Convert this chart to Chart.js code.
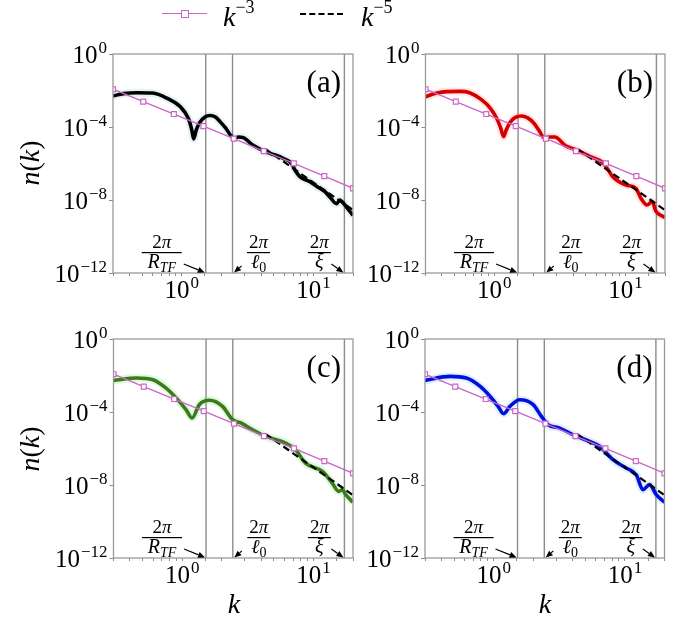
<!DOCTYPE html>
<html>
<head>
<meta charset="utf-8">
<script src="https://cdn.jsdelivr.net/npm/chart.js"></script>
<style>
  body { margin: 0; background: #fff; }
  #fig { position: relative; width: 688px; height: 624px; overflow: hidden; font-family: "Liberation Serif", serif; }
  #fig canvas { position: absolute; }
  .t { position: absolute; font-size: 28px; line-height: 1; white-space: nowrap; color: #000; }
  .t i { font-style: italic; }
  .t sup { font-size: 18px; position: relative; top: -13px; vertical-align: baseline; }
  .c { transform: translate(-50%, -50%); }
  .rot { transform: translate(-50%, -50%) rotate(-90deg); }
  .pinkLine { position: absolute; left: 162px; top: 13px; width: 45px; border-top: 1.6px solid #cc66c8; }
  .pinkMark { position: absolute; left: 181px; top: 10px; width: 6px; height: 6px; border: 1.3px solid #cc66c8; background: #fff; }
  .dashLine { position: absolute; left: 300px; top: 13px; width: 43px; border-top: 2.2px dashed #000; }
</style>
</head>
<body>
<div id="fig">
  <canvas id="pa" width="360" height="300" style="left:0;top:0"></canvas>
  <canvas id="pb" width="328" height="300" style="left:360px;top:0"></canvas>
  <canvas id="pc" width="360" height="324" style="left:0;top:300px"></canvas>
  <canvas id="pd" width="328" height="324" style="left:360px;top:300px"></canvas>

  <div class="pinkLine"></div><div class="pinkMark"></div>
  <div class="t" style="left:223px;top:3px"><i>k</i><sup>−3</sup></div>
  <div class="dashLine"></div>
  <div class="t" style="left:361px;top:3px"><i>k</i><sup>−5</sup></div>

  <div class="t rot" style="left:30px;top:163px"><i>n</i>(<i>k</i>)</div>
  <div class="t rot" style="left:30px;top:449px"><i>n</i>(<i>k</i>)</div>
  <div class="t c" style="left:234px;top:604px"><i>k</i></div>
  <div class="t c" style="left:545px;top:604px"><i>k</i></div>
</div>
<script>
// axis ranges and tick labels
const kMin = 0.3, kMax = 20;
const nMin = 1e-12, nMax = 1;
const yTickValues = [1, 1e-4, 1e-8, 1e-12];
const yTickExps = ['0', '−4', '−8', '−12'];
const xTickValues = [1, 10];
const xTickExps = ['0', '1'];

// vertical markers: 2π/R_TF, 2π/ℓ0, 2π/ξ
const kScales = [1.52, 2.43, 17.2];

// k^-3 reference line (with square markers), log10 n
const kPow3 = [0.3, 0.51, 0.87, 1.46, 2.48, 4.2, 7.1, 12.1, 20];
const logPow3 = [-1.93, -2.61, -3.29, -3.95, -4.64, -5.32, -5.99, -6.69, -7.36];

// k^-5 reference line (dashed), log10 n
const kPow5 = [4.3, 20];
const logPow5 = [-5.2, -8.55];

// (a) black
const kA = [0.30, 0.36, 0.46, 0.60, 0.77, 0.97, 1.12, 1.19, 1.23, 1.29, 1.37, 1.50, 1.64, 1.80, 1.95, 2.15, 2.32, 2.50, 2.70, 2.93, 3.46, 4.41, 5.2, 5.89, 6.82, 7.3, 7.89, 9.41, 11.2, 12.3, 13.4, 15.0, 15.9, 16.8, 17.9, 20];
const logA = [-2.30, -2.17, -2.12, -2.14, -2.42, -2.88, -3.52, -4.15, -4.65, -4.15, -3.75, -3.45, -3.37, -3.45, -3.70, -4.05, -4.40, -4.62, -4.55, -4.58, -4.99, -5.38, -5.55, -5.72, -5.99, -6.40, -6.72, -7.0, -7.36, -7.55, -7.85, -8.2, -8.0, -8.15, -8.4, -8.85];

// (b) red
const kB = [0.30, 0.36, 0.44, 0.55, 0.65, 0.80, 0.93, 1.05, 1.12, 1.18, 1.23, 1.32, 1.45, 1.61, 1.80, 2.0, 2.2, 2.41, 2.6, 2.89, 3.53, 4.24, 5.3, 6.7, 7.3, 8.0, 10.1, 12.0, 13.1, 14.6, 16.0, 17.0, 19.0, 20];
const logB = [-2.34, -2.15, -2.06, -2.05, -2.12, -2.5, -2.95, -3.55, -4.05, -4.53, -4.2, -3.75, -3.47, -3.40, -3.5, -3.78, -4.2, -4.6, -4.55, -4.55, -5.05, -5.26, -5.6, -5.95, -6.3, -6.72, -7.18, -7.36, -7.9, -8.27, -8.08, -8.6, -8.88, -8.95];

// (c) green
const kC = [0.30, 0.45, 0.60, 0.75, 0.90, 1.07, 1.19, 1.35, 1.61, 2.03, 2.42, 2.80, 3.43, 4.34, 6.15, 7.3, 8.7, 11.7, 13.9, 15.6, 16.6, 17.6, 20];
const logC = [-2.27, -2.14, -2.23, -2.68, -3.23, -3.87, -4.33, -3.6, -3.36, -3.69, -4.42, -4.6, -4.97, -5.34, -5.7, -6.07, -6.8, -7.25, -7.9, -8.35, -8.26, -8.53, -8.95];

// (d) blue
const kD = [0.30, 0.465, 0.62, 0.79, 0.94, 1.08, 1.19, 1.33, 1.58, 2.0, 2.31, 2.6, 3.18, 4.02, 5.38, 6.4, 8.1, 10.2, 12.2, 13.7, 15.4, 17.3, 20];
const logD = [-2.27, -2.05, -2.14, -2.6, -3.15, -3.69, -4.09, -3.69, -3.33, -3.6, -4.24, -4.7, -4.88, -5.24, -5.61, -5.88, -6.61, -7.07, -7.44, -8.26, -7.98, -8.53, -8.95];

const SERIF = '"Liberation Serif", "DejaVu Serif", serif';
const pink = '#cc66c8';
const frameGray = '#9a9a9a';

function pts(ks, logs) {
  return ks.map((k, i) => ({ x: k, y: Math.pow(10, logs[i]) }));
}

// "10" with a superscript exponent
function drawPow(ctx, x, baseY, exp, align) {
  ctx.font = '25px ' + SERIF;
  const w1 = ctx.measureText('10').width;
  ctx.font = '17px ' + SERIF;
  const w2 = ctx.measureText(exp).width;
  const total = w1 + w2 + 1;
  const x0 = align === 'right' ? x - total : x - total / 2;
  ctx.textAlign = 'left';
  ctx.font = '25px ' + SERIF;
  ctx.fillText('10', x0, baseY);
  ctx.font = '17px ' + SERIF;
  ctx.fillText(exp, x0 + w1 + 1, baseY - 10);
}

function arrow(ctx, x1, y1, x2, y2) {
  const ang = Math.atan2(y2 - y1, x2 - x1);
  const hl = 7, hw = 3;
  ctx.beginPath();
  ctx.moveTo(x1, y1);
  ctx.lineTo(x2 - hl * Math.cos(ang), y2 - hl * Math.sin(ang));
  ctx.lineWidth = 1.1;
  ctx.strokeStyle = '#000';
  ctx.stroke();
  ctx.beginPath();
  ctx.moveTo(x2, y2);
  ctx.lineTo(x2 - hl * Math.cos(ang) + hw * Math.sin(ang), y2 - hl * Math.sin(ang) - hw * Math.cos(ang));
  ctx.lineTo(x2 - hl * Math.cos(ang) - hw * Math.sin(ang), y2 - hl * Math.sin(ang) + hw * Math.cos(ang));
  ctx.closePath();
  ctx.fill();
}

// numerator 2π and fraction bar
function fracTop(ctx, cx, b, barW) {
  ctx.textAlign = 'left';
  ctx.font = '19px ' + SERIF;
  const w2 = ctx.measureText('2').width;
  ctx.font = 'italic 19px ' + SERIF;
  const wp = ctx.measureText('π').width;
  const x0 = cx - (w2 + wp) / 2;
  ctx.font = '19px ' + SERIF;
  ctx.fillText('2', x0, b - 25);
  ctx.font = 'italic 19px ' + SERIF;
  ctx.fillText('π', x0 + w2, b - 25);
  ctx.fillRect(cx - barW / 2, b - 21, barW, 1.2);
}

// main + subscript, centred at cx
function subText(ctx, cx, b, main, sub) {
  ctx.textAlign = 'left';
  ctx.font = 'italic 20px ' + SERIF;
  const w1 = ctx.measureText(main).width;
  ctx.font = (sub === '0' ? '' : 'italic ') + '14px ' + SERIF;
  const w2 = sub ? ctx.measureText(sub).width : 0;
  const x0 = cx - (w1 + w2) / 2;
  ctx.font = 'italic 20px ' + SERIF;
  ctx.fillText(main, x0, b - 5);
  if (sub) {
    ctx.font = (sub === '0' ? '' : 'italic ') + '14px ' + SERIF;
    ctx.fillText(sub, x0 + w1, b - 1);
  }
}

const panelDecor = {
  id: 'panelDecor',
  afterDraw(chart) {
    const ctx = chart.ctx, a = chart.chartArea;
    const xs = chart.scales.x, ys = chart.scales.y;
    const o = chart.options.plugins.panelDecor;
    ctx.save();
    ctx.strokeStyle = frameGray;
    ctx.lineWidth = 1.3;
    ctx.strokeRect(a.left, a.top, a.right - a.left, a.bottom - a.top);
    ctx.fillStyle = '#000';
    ctx.textBaseline = 'alphabetic';
    yTickValues.forEach((v, i) => {
      drawPow(ctx, a.left - 6, ys.getPixelForValue(v) + 9, yTickExps[i], 'right');
    });
    xTickValues.forEach((v, i) => {
      drawPow(ctx, xs.getPixelForValue(v), a.bottom + 25, xTickExps[i], 'center');
    });
    ctx.font = '31px ' + SERIF;
    ctx.textAlign = 'right';
    ctx.fillText(o.letter, a.right - 12, a.top + 38);

    const b = a.bottom;
    // 2π / R_TF
    let lx = xs.getPixelForValue(kScales[0]);
    fracTop(ctx, lx - 44, b, 40);
    subText(ctx, lx - 44, b, 'R', 'TF');
    arrow(ctx, lx - 22, b - 9, lx - 1, b - 0.5);
    // 2π / ℓ0
    lx = xs.getPixelForValue(kScales[1]);
    fracTop(ctx, lx + 26, b, 23);
    subText(ctx, lx + 26, b, 'ℓ', '0');
    arrow(ctx, lx + 9, b - 7, lx + 1.5, b - 0.5);
    // 2π / ξ
    lx = xs.getPixelForValue(kScales[2]);
    fracTop(ctx, lx - 25, b, 23);
    subText(ctx, lx - 25, b, 'ξ', '');
    arrow(ctx, lx - 13, b - 9, lx - 1, b - 0.5);
    ctx.restore();
  }
};

function makePanel(id, ks, logs, color, haze, letter, box) {
  const datasets = [];
  kScales.forEach(k => {
    datasets.push({
      data: [{ x: k, y: nMin }, { x: k, y: nMax }],
      borderColor: '#8c8c8c', borderWidth: 1.4, pointRadius: 0, order: 5
    });
  });
  datasets.push({
    data: pts(ks, logs), borderColor: haze, borderWidth: 8, pointRadius: 0,
    cubicInterpolationMode: 'monotone', order: 4
  });
  datasets.push({
    data: pts(ks, logs), borderColor: color, borderWidth: 3.6, pointRadius: 0,
    cubicInterpolationMode: 'monotone', order: 3
  });
  datasets.push({
    data: pts(kPow5, logPow5), borderColor: '#000', borderWidth: 2.2, borderDash: [7, 4],
    pointRadius: 0, order: 2
  });
  datasets.push({
    data: pts(kPow3, logPow3), borderColor: pink, borderWidth: 1.4,
    pointStyle: 'rect', pointRadius: 3.5, pointBackgroundColor: '#fff',
    pointBorderColor: pink, pointBorderWidth: 1.2, order: 1
  });

  new Chart(document.getElementById(id), {
    type: 'line',
    data: { datasets },
    options: {
      responsive: false,
      animation: false,
      events: [],
      layout: { padding: { top: box.top, right: box.right, left: 0, bottom: 0 } },
      plugins: { legend: { display: false }, tooltip: { enabled: false }, panelDecor: { letter } },
      scales: {
        x: {
          type: 'logarithmic', min: kMin, max: kMax,
          ticks: { display: false },
          grid: { drawOnChartArea: false, drawTicks: true, tickLength: 3, color: '#8c8c8c' },
          border: { display: false },
          afterFit(s) { s.height = box.xh; }
        },
        y: {
          type: 'logarithmic', min: nMin, max: nMax,
          ticks: { display: false },
          afterBuildTicks(s) { s.ticks = yTickValues.map(v => ({ value: v })); },
          grid: { drawOnChartArea: false, drawTicks: true, tickLength: 4, color: '#8c8c8c' },
          border: { display: false },
          afterFit(s) { s.width = box.yw; }
        }
      }
    },
    plugins: [panelDecor]
  });
}

makePanel('pa', kA, logA, '#000000', 'rgba(90,170,170,0.15)', '(a)', { top: 54, right: 7, xh: 27, yw: 113 });
makePanel('pb', kB, logB, '#d40000', 'rgba(255,90,90,0.15)', '(b)', { top: 54, right: 23, xh: 27, yw: 65.5 });
makePanel('pc', kC, logC, '#3c7a1c', 'rgba(90,225,90,0.2)', '(c)', { top: 39, right: 7, xh: 66, yw: 113.5 });
makePanel('pd', kD, logD, '#0010e0', 'rgba(90,170,230,0.18)', '(d)', { top: 39, right: 23.5, xh: 66, yw: 65 });
</script>
</body>
</html>
